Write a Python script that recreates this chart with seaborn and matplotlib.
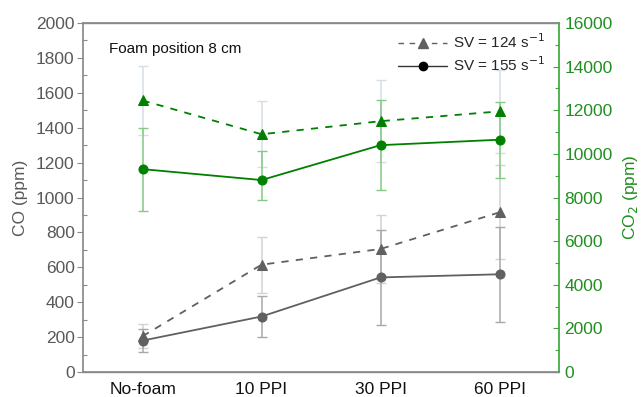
import matplotlib
matplotlib.use("Agg")
import matplotlib.pyplot as plt
import seaborn as sns
import numpy as np
import pandas as pd
from matplotlib.lines import Line2D
from matplotlib.ticker import MultipleLocator

sns.set_theme(style="white")
plt.rcParams['font.family'] = ['Liberation Sans', 'DejaVu Sans']

# Foam configurations along the x axis
categories = ["No-foam", "10 PPI", "30 PPI", "60 PPI"]

# CO emissions (ppm)
co_sv124 = [205, 615, 705, 915]
co_sv124_err = [70, 160, 195, 270]
co_sv155 = [180, 318, 542, 560]
co_sv155_err = [65, 120, 270, 272]

# CO2 emissions (ppm)
co2_sv124 = [12450, 10900, 11500, 11950]
co2_sv124_err = [1600, 1510, 1880, 1900]
co2_sv155 = [9300, 8800, 10400, 10650]
co2_sv155_err_lo = [1900, 920, 2060, 1760]
co2_sv155_err_hi = [1900, 1330, 2060, 1720]

legend_labels = ["SV = 124 s$^{-1}$", "SV = 155 s$^{-1}$"]

GREY = "#606060"
GREEN = "#008000"
GREEN_TXT = "#1f8f1f"
AXIS_GREY = "#8a8a8a"

x = np.arange(len(categories))

fig = plt.figure(figsize=(6.44, 3.97), dpi=100)
ax = fig.add_axes([0.129, 0.063, 0.739, 0.879])
ax2 = ax.twinx()

co_df = pd.DataFrame({"x": np.concatenate([x, x]),
                      "val": co_sv124 + co_sv155,
                      "sv": ["124"] * 4 + ["155"] * 4})
co2_df = pd.DataFrame({"x": np.concatenate([x, x]),
                       "val": co2_sv124 + co2_sv155,
                       "sv": ["124"] * 4 + ["155"] * 4})

# Error bars (drawn beneath the lines)
eb = dict(fmt="none", elinewidth=1.1, capsize=3.5, capthick=1.0, zorder=1)
ax.errorbar(x, co_sv124, yerr=co_sv124_err, ecolor="#d2d2d2", **eb)
ax.errorbar(x, co_sv155, yerr=co_sv155_err, ecolor="#a8a8a8", **eb)
ax2.errorbar(x, co2_sv124, yerr=co2_sv124_err, ecolor="#d4dee6", **eb)
ax2.errorbar(x, co2_sv155, yerr=[co2_sv155_err_lo, co2_sv155_err_hi],
             ecolor="#84c984", **eb)

# CO lines
sns.lineplot(data=co_df[co_df.sv == "124"], x="x", y="val", ax=ax, color=GREY,
             linestyle=(0, (4, 4)), linewidth=1.3, marker="^", markersize=7,
             markeredgecolor=GREY, zorder=3, legend=False)
sns.lineplot(data=co_df[co_df.sv == "155"], x="x", y="val", ax=ax, color=GREY,
             linewidth=1.3, marker="o", markersize=6.5,
             markeredgecolor=GREY, zorder=3, legend=False)
# CO2 lines
sns.lineplot(data=co2_df[co2_df.sv == "124"], x="x", y="val", ax=ax2, color=GREEN,
             linestyle=(0, (4, 4)), linewidth=1.3, marker="^", markersize=7,
             markeredgecolor=GREEN, zorder=3, legend=False)
sns.lineplot(data=co2_df[co2_df.sv == "155"], x="x", y="val", ax=ax2, color=GREEN,
             linewidth=1.3, marker="o", markersize=6.5,
             markeredgecolor=GREEN, zorder=3, legend=False)

ax.set_xlim(-0.5, 3.5)
ax.set_ylim(0, 2000)
ax2.set_ylim(0, 16000)
ax.set_xticks(x)
ax.set_xticklabels(categories)
ax.yaxis.set_major_locator(MultipleLocator(200))
ax.yaxis.set_minor_locator(MultipleLocator(100))
ax2.yaxis.set_major_locator(MultipleLocator(2000))
ax2.yaxis.set_minor_locator(MultipleLocator(1000))

for s in ["left", "bottom", "top"]:
    ax.spines[s].set_color(AXIS_GREY)
    ax2.spines[s].set_color(AXIS_GREY)
    ax2.spines[s].set_linewidth(1.0)
ax2.spines["right"].set_color("#3caa3c")
ax2.spines["left"].set_visible(False)
ax.spines["right"].set_visible(False)

ax.tick_params(axis="y", which="major", direction="out", length=4, width=0.8,
               color=AXIS_GREY, labelcolor="#595959", labelsize=12.5, pad=2)
ax.tick_params(axis="y", which="minor", direction="in", length=3, width=0.8,
               color=AXIS_GREY, left=True)
ax.tick_params(axis="x", which="major", direction="out", length=4, width=0.8,
               color=AXIS_GREY, labelcolor="#111111", labelsize=12.5, pad=3)
ax2.tick_params(axis="y", which="major", direction="in", length=4, width=0.8,
                color="#3caa3c", labelcolor=GREEN_TXT, labelsize=12.5, pad=4)
ax2.tick_params(axis="y", which="minor", direction="in", length=3, width=0.8,
                color="#3caa3c", right=True)

ax.set_xlabel("")
ax.set_ylabel("CO (ppm)", color="#595959", fontsize=12.5, labelpad=6)
ax2.set_ylabel("CO$_2$ (ppm)", color=GREEN_TXT, fontsize=12.5, labelpad=6)

ax.text(0.055, 0.945, "Foam position 8 cm", transform=ax.transAxes,
        fontsize=11, color="#111111", va="top", ha="left")

handles = [
    Line2D([], [], color=GREY, linestyle=(0, (4, 4)), linewidth=1.0,
           marker="^", markersize=6.5, markeredgecolor=GREY),
    Line2D([], [], color="#333333", linewidth=1.0, marker="o",
           markersize=6, markerfacecolor="black", markeredgecolor="black"),
]
ax2.legend(handles, legend_labels, loc="upper right", frameon=False,
           fontsize=11, handlelength=3.2, handletextpad=0.4,
           borderaxespad=0.2, labelspacing=0.3, bbox_to_anchor=(0.99, 1.0))

fig.savefig("out.png", dpi=100)
